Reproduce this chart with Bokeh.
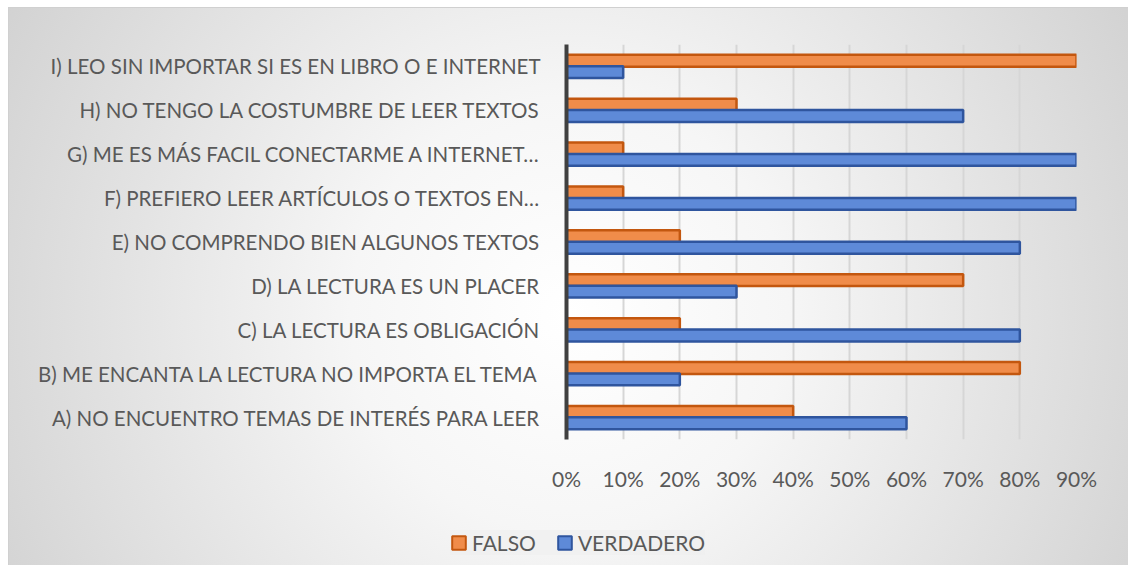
from bokeh.plotting import figure
from bokeh.layouts import column, row
from bokeh.models import ColumnDataSource, Range1d, FixedTicker, NumeralTickFormatter, Legend, LegendItem
from bokeh.transform import dodge
from bokeh.embed import file_html
from bokeh.resources import INLINE

categories = [
    "A) NO ENCUENTRO TEMAS DE INTERÉS PARA LEER",
    "B) ME ENCANTA LA LECTURA NO IMPORTA EL TEMA",
    "C) LA LECTURA ES OBLIGACIÓN",
    "D) LA LECTURA ES UN PLACER",
    "E) NO COMPRENDO BIEN ALGUNOS TEXTOS",
    "F) PREFIERO LEER ARTÍCULOS O TEXTOS EN…",
    "G) ME ES MÁS FACIL CONECTARME A INTERNET…",
    "H) NO TENGO LA COSTUMBRE DE LEER TEXTOS",
    "I) LEO SIN IMPORTAR SI ES EN LIBRO O E INTERNET",
]
falso = [0.40, 0.80, 0.20, 0.70, 0.20, 0.10, 0.10, 0.30, 0.90]
verdadero = [0.60, 0.20, 0.80, 0.30, 0.80, 0.90, 0.90, 0.70, 0.10]
x_ticks = [0.0, 0.1, 0.2, 0.3, 0.4, 0.5, 0.6, 0.7, 0.8, 0.9]
series_names = ["FALSO", "VERDADERO"]

src = ColumnDataSource(dict(cat=categories, falso=falso, verdadero=verdadero))

FONT = "Lato"
TXT = "#595959"
ORANGE_FILL, ORANGE_LINE = "#F08C4A", "#C3570F"
BLUE_FILL, BLUE_LINE = "#5E8AD8", "#2F559E"

p = figure(width=1120, height=490, y_range=categories, x_range=Range1d(0, 0.9),
           output_backend="svg", toolbar_location=None,
           min_border_left=557, min_border_right=53, min_border_top=36, min_border_bottom=59)
p.border_fill_color = None
p.background_fill_color = None
p.outline_line_color = None

r_f = p.hbar(y=dodge("cat", 0.13, range=p.y_range), right="falso", left=0, height=0.27, source=src,
             fill_color=ORANGE_FILL, line_color=ORANGE_LINE, line_width=2.5)
r_v = p.hbar(y=dodge("cat", -0.13, range=p.y_range), right="verdadero", left=0, height=0.27, source=src,
             fill_color=BLUE_FILL, line_color=BLUE_LINE, line_width=2.5)

p.xgrid.grid_line_color = "#d6d6d6"
p.xgrid.grid_line_width = 2
p.ygrid.grid_line_color = None

p.xaxis.ticker = FixedTicker(ticks=x_ticks)
p.xaxis.formatter = NumeralTickFormatter(format="0%")
p.xaxis.axis_line_color = None
p.xaxis.major_tick_line_color = None
p.xaxis.minor_tick_line_color = None
p.xaxis.major_label_standoff = 20
p.xaxis.major_label_text_font = FONT
p.xaxis.major_label_text_font_size = "21px"
p.xaxis.major_label_text_color = TXT

p.yaxis.axis_line_color = "#404040"
p.yaxis.axis_line_width = 4
p.yaxis.major_tick_line_color = None
p.yaxis.minor_tick_line_color = None
p.yaxis.major_label_standoff = 20
p.yaxis.major_label_text_font = FONT
p.yaxis.major_label_text_font_size = "20.5px"
p.yaxis.major_label_text_color = TXT

# legend strip
lg = figure(width=1120, height=68, x_range=Range1d(0, 1), y_range=Range1d(0, 1),
            output_backend="svg", toolbar_location=None,
            min_border_left=0, min_border_right=0, min_border_top=0, min_border_bottom=0)
lg.axis.visible = False
lg.grid.visible = False
lg.border_fill_color = None
lg.background_fill_color = None
lg.outline_line_color = None
g_f = lg.hbar(y=[-5], right=[-5], left=[-6], height=0.5, fill_color=ORANGE_FILL, line_color=ORANGE_LINE, line_width=2)
g_v = lg.hbar(y=[-5], right=[-5], left=[-6], height=0.5, fill_color=BLUE_FILL, line_color=BLUE_LINE, line_width=2)
legend = Legend(items=[LegendItem(label=series_names[0], renderers=[g_f]),
                       LegendItem(label=series_names[1], renderers=[g_v])],
                orientation="horizontal", location=(441, 11),
                label_text_font=FONT, label_text_font_size="21px", label_text_color=TXT,
                glyph_width=17, glyph_height=17, spacing=20, padding=12, margin=0,
                background_fill_color="#efefef", background_fill_alpha=0.6,
                border_line_color=None, label_standoff=5)
lg.add_layout(legend, "center")

layout = column(p, row(lg, spacing=0), spacing=0, margin=(7, 0, 0, 8))
layout.styles = {"background": "radial-gradient(ellipse 65% 130% at 50% 55%, #ffffff 0%, #f6f6f6 30%, #cbcbcb 100%)",
                 "border": "1px solid #d0d0d0"}

open("out.html", "w").write(file_html(layout, INLINE))
